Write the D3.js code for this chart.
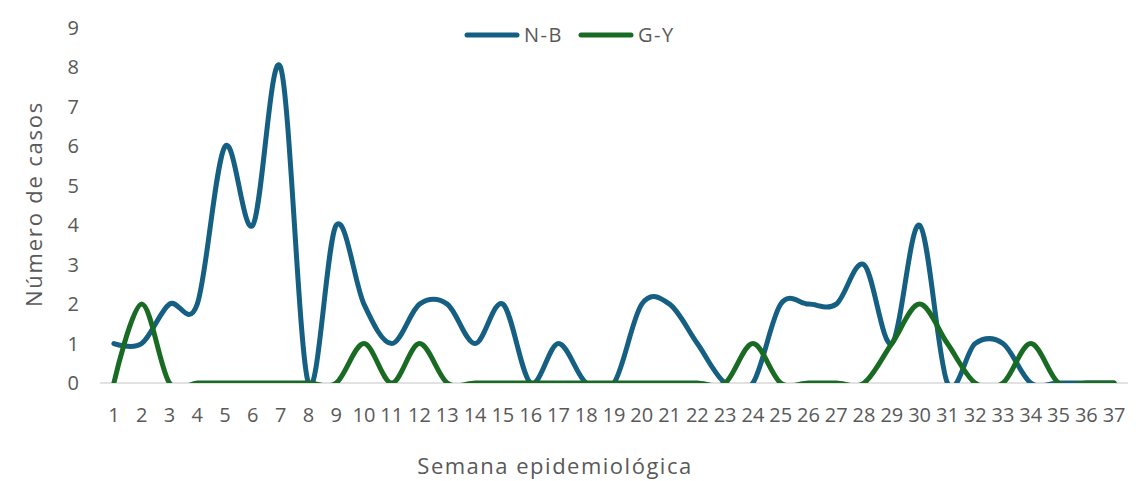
<!DOCTYPE html>
<html>
<head>
<meta charset="utf-8">
<script src="https://cdn.jsdelivr.net/npm/d3@7"></script>
<style>
  body { margin: 0; background: #fff; }
  text { font-family: "Open Sans", "Liberation Sans", sans-serif; fill: #595959; }
</style>
</head>
<body>
<svg id="chart" width="1147" height="481"></svg>
<script>
// semanas epidemiológicas 1..37
const semanas = d3.range(1, 38);
const nb = [1, 1, 2, 2, 6, 4, 8, 0, 4, 2, 1, 2, 2, 1, 2, 0, 1, 0, 0, 2, 2, 1, 0, 0, 2, 2, 2, 3, 1, 4, 0, 1, 1, 0, 0, 0, 0];
const gy = [0, 2, 0, 0, 0, 0, 0, 0, 0, 1, 0, 1, 0, 0, 0, 0, 0, 0, 0, 0, 0, 0, 0, 1, 0, 0, 0, 0, 1, 2, 1, 0, 0, 1, 0, 0, 0];
const yTicks = [0, 1, 2, 3, 4, 5, 6, 7, 8, 9];
const series = [
  { name: "N-B", values: nb, color: "#156082" },
  { name: "G-Y", values: gy, color: "#196B24" }
];

const svg = d3.select("#chart");
const plotL = 100, plotR = 1128, plotT = 28, plotB = 383;

const x = d3.scaleBand().domain(semanas).range([plotL, plotR]);
const y = d3.scaleLinear().domain([0, 9]).range([plotB, plotT]);

// clip to plot area (lines dip below 0 like in Excel)
svg.append("defs").append("clipPath").attr("id", "plot")
  .append("rect")
  .attr("x", plotL).attr("y", plotT - 10)
  .attr("width", plotR - plotL).attr("height", plotB - plotT + 10);

// axis line
svg.append("line")
  .attr("x1", plotL).attr("x2", plotR)
  .attr("y1", y(0)).attr("y2", y(0))
  .attr("stroke", "#d9d9d9").attr("stroke-width", 1.5);

// y tick labels
svg.append("g").selectAll("text")
  .data(yTicks).enter()
  .append("text")
  .attr("x", 79)
  .attr("y", d => y(d))
  .attr("dy", "0.35em")
  .attr("text-anchor", "end")
  .style("font-size", "20px")
  .text(d => d);

// x tick labels
svg.append("g").selectAll("text")
  .data(semanas).enter()
  .append("text")
  .attr("x", d => x(d) + x.bandwidth() / 2)
  .attr("y", 415)
  .attr("dy", "0.35em")
  .attr("text-anchor", "middle")
  .style("font-size", "20px")
  .text(d => d);

// axis titles
svg.append("text")
  .attr("x", 555).attr("y", 466)
  .attr("dy", "0.35em")
  .attr("text-anchor", "middle")
  .style("font-size", "22px")
  .style("letter-spacing", "1.5px")
  .text("Semana epidemiológica");

svg.append("text")
  .attr("transform", "translate(34,204) rotate(-90)")
  .attr("dy", "0.35em")
  .attr("text-anchor", "middle")
  .style("font-size", "22px")
  .style("letter-spacing", "1.8px")
  .text("Número de casos");

// lines
const line = d3.line()
  .x((d, i) => x(semanas[i]) + x.bandwidth() / 2)
  .y(d => y(d))
  .curve(d3.curveCardinal.tension(0));

svg.append("g").attr("clip-path", "url(#plot)")
  .selectAll("path")
  .data(series).enter()
  .append("path")
  .attr("d", d => line(d.values))
  .attr("fill", "none")
  .attr("stroke", d => d.color)
  .attr("stroke-width", 5)
  .attr("stroke-linecap", "round")
  .attr("stroke-linejoin", "round");

// legend
const legend = svg.append("g");
const legendX = [467, 581];
series.forEach((s, i) => {
  legend.append("line")
    .attr("x1", legendX[i]).attr("x2", legendX[i] + 50)
    .attr("y1", 35).attr("y2", 35)
    .attr("stroke", s.color).attr("stroke-width", 5)
    .attr("stroke-linecap", "round");
  legend.append("text")
    .attr("x", legendX[i] + 57).attr("y", 35)
    .attr("dy", "0.35em")
    .style("font-size", "20px")
    .style("letter-spacing", "1.5px")
    .text(s.name);
});
</script>
</body>
</html>
